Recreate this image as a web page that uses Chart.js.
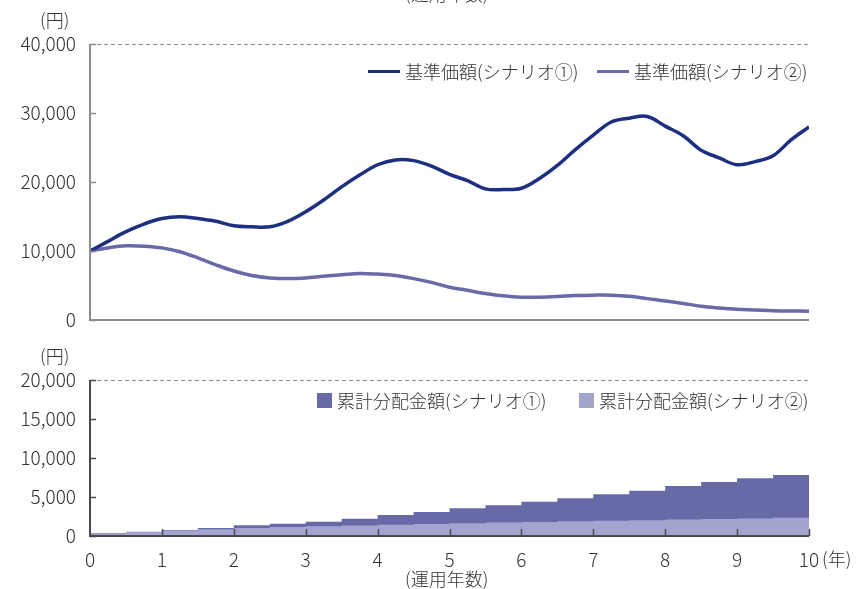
<!DOCTYPE html>
<html>
<head>
<meta charset="utf-8">
<script src="https://cdn.jsdelivr.net/npm/chart.js@4.4.1/dist/chart.umd.min.js"></script>
<style>
  html, body { margin: 0; padding: 0; background: #fff; }
  body { width: 863px; height: 589px; overflow: hidden; position: relative;
         font-family: "Noto Sans CJK JP", "Noto Sans", sans-serif; font-weight: 300; color: #333; }
  canvas { position: absolute; left: 0; }
  #navChart { top: 0; }
  #distChart { top: 330px; }
  .t { position: absolute; font-size: 18px; line-height: 1; white-space: nowrap; }
  .lg { position: absolute; font-size: 18px; line-height: 1; white-space: nowrap; display: flex; align-items: center; }
  .swLine { display: inline-block; width: 32px; height: 3px; margin-right: 5px; }
  .swBox { display: inline-block; width: 15px; height: 15px; margin-right: 5px; }
</style>
</head>
<body>
<canvas id="navChart" width="863" height="330" style="width:863px;height:330px"></canvas>
<canvas id="distChart" width="863" height="259" style="width:863px;height:259px"></canvas>

<div class="t" style="left:405px;top:-16px;">(運用年数)</div>
<div class="t" style="left:40px;top:10px;">(円)</div>
<div class="t" style="left:40px;top:346px;">(円)</div>
<div class="t" style="left:822px;top:549px;">(年)</div>
<div class="t" style="left:405px;top:569px;">(運用年数)</div>

<div class="lg" style="left:368px;top:62px;"><span class="swLine" style="background:#1c2f80"></span>基準価額(シナリオ①)</div>
<div class="lg" style="left:597px;top:62px;"><span class="swLine" style="background:#6a6aa9"></span>基準価額(シナリオ②)</div>
<div class="lg" style="left:317px;top:391px;"><span class="swBox" style="background:#676aa6"></span>累計分配金額(シナリオ①)</div>
<div class="lg" style="left:579px;top:391px;"><span class="swBox" style="background:#a4a5cf"></span>累計分配金額(シナリオ②)</div>

<script>
// Elapsed years for the NAV series (quarterly)
const navYears = [0, 0.25, 0.5, 0.75, 1, 1.25, 1.5, 1.75, 2, 2.25, 2.5, 2.75, 3, 3.25, 3.5, 3.75,
  4, 4.25, 4.5, 4.75, 5, 5.25, 5.5, 5.75, 6, 6.25, 6.5, 6.75, 7, 7.25, 7.5, 7.75,
  8, 8.25, 8.5, 8.75, 9, 9.25, 9.5, 9.75, 10];

// 基準価額 (円)
const navScenario1 = [10000, 11400, 12800, 13900, 14700, 14950, 14700, 14300, 13650, 13500, 13500, 14300,
  15700, 17400, 19300, 21000, 22500, 23200, 23100, 22300, 21100, 20200, 19000, 18900,
  19100, 20500, 22400, 24700, 26800, 28700, 29250, 29500, 28100, 26700, 24600, 23500,
  22500, 22950, 23800, 26100, 28000];
const navScenario2 = [10000, 10450, 10750, 10700, 10450, 9900, 9000, 8000, 7100, 6450, 6100, 6000,
  6100, 6350, 6550, 6750, 6650, 6450, 6000, 5450, 4750, 4300, 3850, 3500,
  3300, 3300, 3400, 3550, 3600, 3600, 3450, 3100, 2750, 2400, 2000, 1750,
  1550, 1450, 1350, 1300, 1280];

// Semi-annual distribution dates (years)
const distYears = [0, 0.5, 1, 1.5, 2, 2.5, 3, 3.5, 4, 4.5, 5, 5.5, 6, 6.5, 7, 7.5, 8, 8.5, 9, 9.5, 10];

// 累計分配金額 (円)
const distScenario1 = [0, 350, 550, 770, 1030, 1370, 1560, 1830, 2220, 2690, 3080, 3550,
  3950, 4380, 4830, 5340, 5810, 6410, 6920, 7400, 7820];
const distScenario2 = [0, 300, 500, 700, 880, 1030, 1150, 1250, 1350, 1450, 1550, 1640,
  1720, 1800, 1880, 1950, 2020, 2100, 2170, 2250, 2330];

const xTickLabels = ['0', '1', '2', '3', '4', '5', '6', '7', '8', '9', '10'];

const FONT = '"Noto Sans CJK JP", "Noto Sans", sans-serif';
const TEXT = '#333333';

const pairs = (xs, ys) => xs.map((x, i) => ({ x, y: ys[i] }));

// Axis frame: solid left/bottom axes, dashed top line, inward tick marks
function framePlugin(cfg) {
  return {
    id: 'frame',
    afterDatasetsDraw(chart) {
      const { ctx, chartArea: a } = chart;
      const ys = chart.scales.y, xs = chart.scales.x;
      ctx.save();
      // dashed top line
      ctx.strokeStyle = '#8a8a8a';
      ctx.lineWidth = 1;
      ctx.setLineDash([4, 3]);
      ctx.beginPath();
      ctx.moveTo(a.left, a.top + 0.5);
      ctx.lineTo(a.right, a.top + 0.5);
      ctx.stroke();
      ctx.setLineDash([]);
      // axes
      ctx.strokeStyle = cfg.axisColor;
      ctx.lineWidth = 2;
      ctx.beginPath();
      ctx.moveTo(a.left, a.top);
      ctx.lineTo(a.left, a.bottom);
      ctx.lineTo(a.right, a.bottom);
      ctx.stroke();
      // y tick marks pointing inward
      ctx.lineWidth = 1.5;
      ys.ticks.forEach(t => {
        const py = Math.round(ys.getPixelForValue(t.value)) + 0.5;
        ctx.beginPath();
        ctx.moveTo(a.left, py);
        ctx.lineTo(a.left + 6, py);
        ctx.stroke();
      });
      if (cfg.xTicks) {
        xs.ticks.forEach(t => {
          if (t.value === 0) return;
          const px = Math.round(xs.getPixelForValue(t.value)) + 0.5;
          ctx.beginPath();
          ctx.moveTo(px, a.bottom);
          ctx.lineTo(px, a.bottom - 7);
          ctx.stroke();
        });
      }
      ctx.restore();
    }
  };
}

const yTickCfg = (step) => ({
  stepSize: step,
  color: TEXT,
  padding: 14,
  font: { family: FONT, size: 19, weight: 300 },
  callback: (v) => v.toLocaleString('en-US')
});

// fixed axis width, no label overflow padding
const fixY = (s) => { s.width = 90; s.paddingTop = 0; s.paddingBottom = 0; };

new Chart(document.getElementById('navChart'), {
  type: 'line',
  data: {
    datasets: [
      { label: '基準価額(シナリオ①)', data: pairs(navYears, navScenario1),
        borderColor: '#1c2f80', borderWidth: 3.5, pointRadius: 0, tension: 0.35, fill: false },
      { label: '基準価額(シナリオ②)', data: pairs(navYears, navScenario2),
        borderColor: '#6a6aa9', borderWidth: 3.5, pointRadius: 0, tension: 0.35, fill: false }
    ]
  },
  options: {
    responsive: false,
    animation: false,
    layout: { padding: { left: 0, top: 44, right: 54, bottom: 10 } },
    plugins: { legend: { display: false }, tooltip: { enabled: false } },
    scales: {
      x: { type: 'linear', min: 0, max: 10, display: false },
      y: {
        min: 0, max: 40000,
        grid: { display: false, drawTicks: false },
        border: { display: false },
        ticks: yTickCfg(10000),
        afterFit: fixY
      }
    }
  },
  plugins: [framePlugin({ axisColor: '#8c8c8c', xTicks: false })]
});

new Chart(document.getElementById('distChart'), {
  type: 'line',
  data: {
    datasets: [
      { label: '累計分配金額(シナリオ①)', data: pairs(distYears, distScenario1),
        stepped: 'after', fill: 'origin', backgroundColor: '#676aa6', borderColor: '#676aa6',
        borderWidth: 0, pointRadius: 0, order: 1 },
      { label: '累計分配金額(シナリオ②)', data: pairs(distYears, distScenario2),
        stepped: 'after', fill: 'origin', backgroundColor: '#a4a5cf', borderColor: '#a4a5cf',
        borderWidth: 0, pointRadius: 0, order: 0 }
    ]
  },
  options: {
    responsive: false,
    animation: false,
    layout: { padding: { left: 0, top: 50, right: 54, bottom: 0 } },
    plugins: { legend: { display: false }, tooltip: { enabled: false } },
    scales: {
      x: {
        type: 'linear', min: 0, max: 10,
        grid: { display: false, drawTicks: false },
        border: { display: false },
        ticks: {
          stepSize: 1, color: TEXT, padding: 12,
          font: { family: FONT, size: 19, weight: 300 },
          callback: (v) => xTickLabels[v] ?? ''
        },
        afterFit: (s) => { s.height = 53; }
      },
      y: {
        min: 0, max: 20000,
        grid: { display: false, drawTicks: false },
        border: { display: false },
        ticks: yTickCfg(5000),
        afterFit: fixY
      }
    }
  },
  plugins: [framePlugin({ axisColor: '#4a4a4a', xTicks: true })]
});
</script>
</body>
</html>
